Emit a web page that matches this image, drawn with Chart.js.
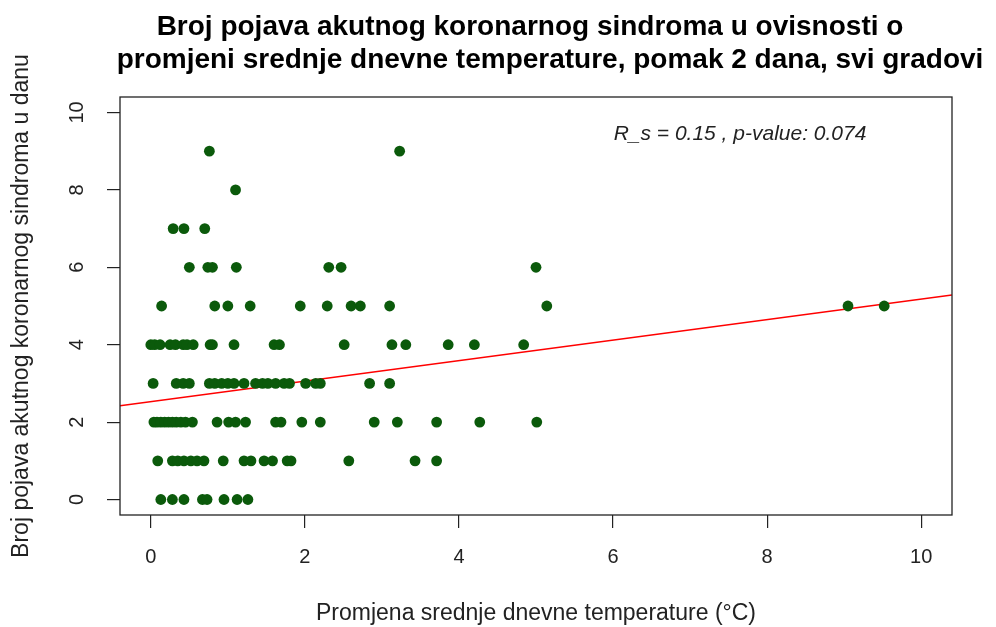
<!DOCTYPE html>
<html>
<head>
<meta charset="utf-8">
<script src="https://cdn.jsdelivr.net/npm/chart.js@4"></script>
<style>
  html, body { margin: 0; padding: 0; background: #fff; }
  #wrap { width: 996px; height: 627px; }
</style>
</head>
<body>
<div id="wrap"><canvas id="acs-chart" width="996" height="627"></canvas></div>
<script>
// daily ACS counts and the 2-day lagged change of mean daily temperature
const caseCounts = [0, 1, 2, 3, 4, 5, 6, 7, 8, 9];
const tempChanges = [
  [0.13, 0.28, 0.43, 0.67, 0.73, 0.95, 1.12, 1.26],
  [0.09, 0.28, 0.35, 0.43, 0.52, 0.60, 0.69, 0.94, 1.21, 1.30, 1.47, 1.58, 1.77, 1.82, 2.57, 3.43, 3.71],
  [0.04, 0.08, 0.13, 0.18, 0.23, 0.28, 0.33, 0.39, 0.45, 0.54, 0.86, 1.01, 1.10, 1.23, 1.62, 1.69, 1.96, 2.20, 2.90, 3.20, 3.71, 4.27, 5.01],
  [0.03, 0.33, 0.42, 0.50, 0.76, 0.83, 0.92, 1.00, 1.08, 1.21, 1.36, 1.45, 1.52, 1.62, 1.73, 1.80, 2.01, 2.14, 2.20, 2.84, 3.10],
  [0.00, 0.05, 0.12, 0.25, 0.32, 0.42, 0.47, 0.55, 0.77, 0.80, 1.08, 1.60, 1.67, 2.51, 3.13, 3.31, 3.86, 4.20, 4.84],
  [0.14, 0.83, 1.00, 1.29, 1.94, 2.29, 2.60, 2.72, 3.10, 5.14, 9.05, 9.52],
  [0.50, 0.74, 0.80, 1.11, 2.31, 2.47, 5.00],
  [0.29, 0.43, 0.70],
  [1.10],
  [0.76, 3.23]
];

// linear fit drawn across the whole panel
const fitIntercept = 2.53;
const fitSlope = 0.265;

const xRange = [-0.4, 10.4];
const yRange = [-0.4, 10.4];
const xTicks = [0, 2, 4, 6, 8, 10];
const yTicks = [0, 2, 4, 6, 8, 10];

const titleLines = [
  'Broj pojava akutnog koronarnog sindroma u ovisnosti o',
  'promjeni srednje dnevne temperature, pomak 2 dana, svi gradovi'
];
const xTitle = 'Promjena srednje dnevne temperature (°C)';
const yTitle = 'Broj pojava akutnog koronarnog sindroma u danu';
const statsText = 'R_s = 0.15 , p-value: 0.074';

const FONT = '"Liberation Sans", Arial, Helvetica, sans-serif';

const points = [];
caseCounts.forEach((c, i) => {
  tempChanges[i].forEach(t => points.push({ x: t, y: c }));
});

const fitLine = xRange.map(x => ({ x: x, y: fitIntercept + fitSlope * x }));

// box, rotated y tick labels, main title and the correlation note
const decorations = {
  id: 'decorations',
  afterDraw(chart) {
    const ctx = chart.ctx;
    const area = chart.chartArea;
    const yScale = chart.scales.y;
    const cx = (area.left + area.right) / 2;

    ctx.save();
    ctx.strokeStyle = '#222';
    ctx.lineWidth = 1.3;
    ctx.strokeRect(area.left, area.top, area.right - area.left, area.bottom - area.top);

    ctx.fillStyle = '#222';
    ctx.font = '20px ' + FONT;
    ctx.textAlign = 'center';
    ctx.textBaseline = 'middle';
    yTicks.forEach(v => {
      ctx.save();
      ctx.translate(area.left - 43, yScale.getPixelForValue(v));
      ctx.rotate(-Math.PI / 2);
      ctx.fillText(String(v), 0, 0);
      ctx.restore();
    });

    ctx.fillStyle = '#000';
    ctx.font = 'bold 28px ' + FONT;
    ctx.textBaseline = 'alphabetic';
    ctx.fillText(titleLines[0], cx - 6, 35);
    ctx.fillText(titleLines[1], cx + 14, 68);

    ctx.fillStyle = '#222';
    ctx.font = 'italic 21px ' + FONT;
    ctx.fillText(statsText, area.right - 212, area.top + 43);
    ctx.restore();
  }
};

new Chart(document.getElementById('acs-chart'), {
  type: 'scatter',
  data: {
    datasets: [
      {
        data: points,
        backgroundColor: '#0b5a0b',
        borderColor: '#0b5a0b',
        borderWidth: 0,
        pointRadius: 5.4,
        pointHoverRadius: 5.4
      },
      {
        type: 'line',
        data: fitLine,
        borderColor: '#ff0000',
        borderWidth: 1.5,
        pointRadius: 0,
        fill: false
      }
    ]
  },
  options: {
    responsive: false,
    animation: false,
    devicePixelRatio: 1,
    layout: { padding: { top: 97, right: 44, left: 0, bottom: 0 } },
    plugins: {
      legend: { display: false },
      tooltip: { enabled: false },
      title: { display: false }
    },
    scales: {
      x: {
        type: 'linear',
        min: xRange[0],
        max: xRange[1],
        afterFit: s => { s.height = 112; },
        afterBuildTicks: s => { s.ticks = xTicks.map(v => ({ value: v })); },
        border: { display: false },
        grid: { drawOnChartArea: false, drawTicks: true, tickLength: 13, color: '#222', lineWidth: 1.2 },
        ticks: { color: '#222', font: { family: FONT, size: 20 }, padding: 17, maxRotation: 0 },
        title: { display: true, text: xTitle, color: '#222', font: { family: FONT, size: 23 }, padding: { bottom: 0 } }
      },
      y: {
        type: 'linear',
        min: yRange[0],
        max: yRange[1],
        afterFit: s => { s.width = 120; },
        afterBuildTicks: s => { s.ticks = yTicks.map(v => ({ value: v })); },
        border: { display: false },
        grid: { drawOnChartArea: false, drawTicks: true, tickLength: 13, color: '#222', lineWidth: 1.2 },
        ticks: { display: false },
        title: { display: true, text: yTitle, color: '#222', font: { family: FONT, size: 23 }, padding: { top: 8 } }
      }
    }
  },
  plugins: [decorations]
});
</script>
</body>
</html>
